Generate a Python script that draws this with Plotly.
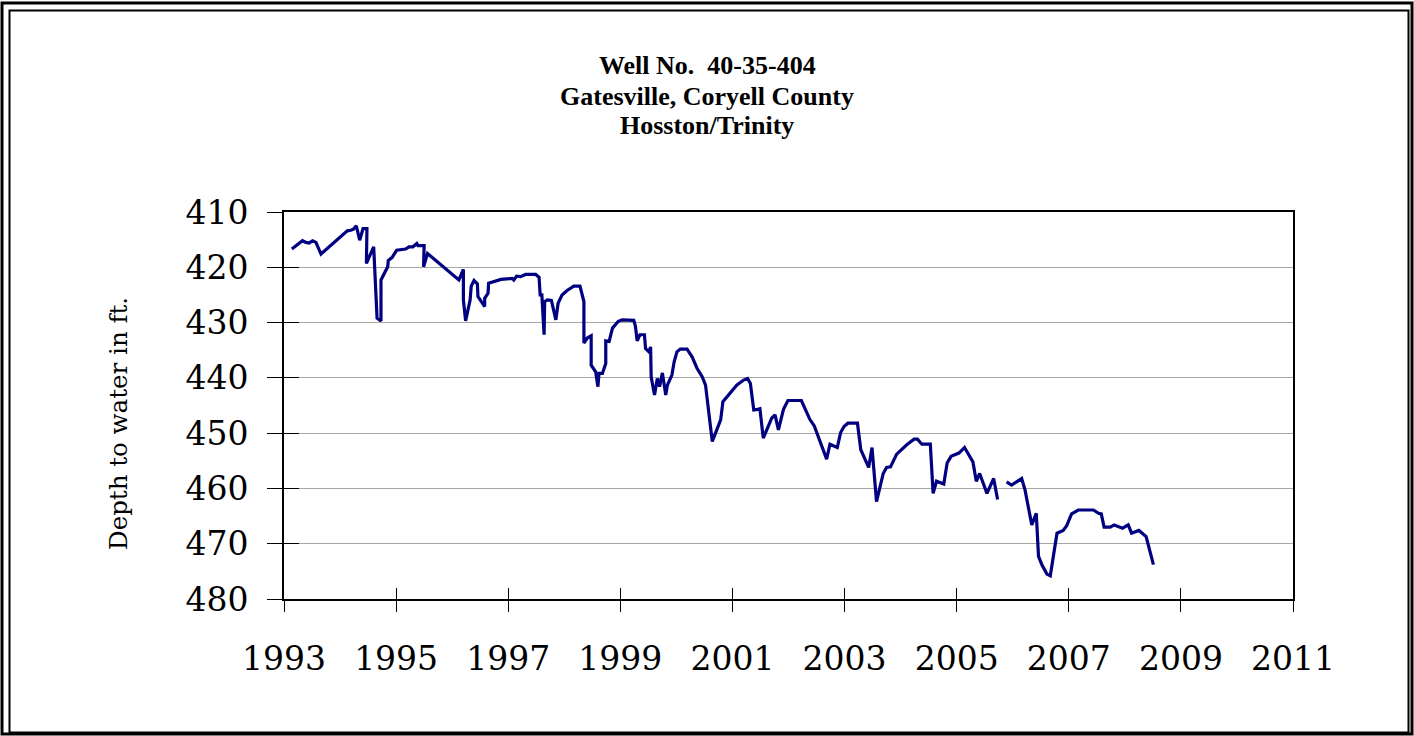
import plotly.graph_objects as go

# ---- data (decimal year, depth to water in ft) ----
years = [
    1993.14, 1993.33, 1993.39, 1993.45, 1993.51, 1993.57, 1993.66, 1994.13, 1994.19, 1994.24,
    1994.29, 1994.35, 1994.41, 1994.48, 1994.47, 1994.53, 1994.60, 1994.66, 1994.73, 1994.73,
    1994.85, 1994.86, 1994.93, 1995.01, 1995.17, 1995.23, 1995.30, 1995.37, 1995.39, 1995.50,
    1995.49, 1995.56, 1996.12, 1996.20, 1996.20, 1996.24, 1996.32, 1996.34, 1996.39, 1996.45,
    1996.46, 1996.50, 1996.58, 1996.58, 1996.64, 1996.65, 1996.75, 1996.87, 1997.07, 1997.10,
    1997.15, 1997.22, 1997.31, 1997.49, 1997.55, 1997.57, 1997.60, 1997.64, 1997.65, 1997.70,
    1997.77, 1997.85, 1997.89, 1997.96, 1998.05, 1998.17, 1998.28, 1998.35, 1998.35, 1998.41,
    1998.48, 1998.48, 1998.56, 1998.60, 1998.62, 1998.68, 1998.74, 1998.74, 1998.80, 1998.86,
    1998.96, 1999.03, 1999.24, 1999.27, 1999.30, 1999.35, 1999.43, 1999.45, 1999.51, 1999.54,
    1999.55, 1999.61, 1999.66, 1999.70, 1999.75, 1999.81, 1999.84, 1999.92, 1999.96, 2000.01,
    2000.07, 2000.19, 2000.28, 2000.37, 2000.46, 2000.52, 2000.64, 2000.79, 2000.83, 2001.08,
    2001.20, 2001.27, 2001.32, 2001.38, 2001.45, 2001.49, 2001.55, 2001.70, 2001.76, 2001.82,
    2001.91, 2001.99, 2002.23, 2002.33, 2002.38, 2002.46, 2002.56, 2002.68, 2002.74, 2002.87,
    2002.93, 2002.99, 2003.06, 2003.23, 2003.29, 2003.43, 2003.49, 2003.57, 2003.69, 2003.75,
    2003.82, 2003.93, 2004.11, 2004.24, 2004.30, 2004.38, 2004.53, 2004.58, 2004.64, 2004.77,
    2004.83, 2004.90, 2005.04, 2005.14, 2005.29, 2005.35, 2005.41, 2005.54, 2005.66, 2005.73,
    2005.81,
    2005.89, 2005.98, 2006.16, 2006.22, 2006.34, 2006.42, 2006.46, 2006.52, 2006.61, 2006.67,
    2006.79, 2006.90, 2006.96, 2007.05, 2007.17, 2007.44, 2007.53, 2007.58, 2007.63, 2007.74,
    2007.81, 2007.96, 2008.06, 2008.12, 2008.25, 2008.38, 2008.51,
]
depths = [
    416.7, 415.2, 415.5, 415.6, 415.2, 415.5, 417.6, 413.4, 413.3, 413.1,
    412.5, 415.1, 413.0, 413.0, 419.3, 418.0, 416.3, 429.2, 429.7, 422.3,
    419.9, 418.8, 418.2, 416.9, 416.7, 416.3, 416.3, 415.7, 416.1, 416.1,
    419.9, 417.5, 422.3, 420.4, 425.9, 429.7, 425.9, 423.4, 422.4, 423.0,
    425.3, 425.9, 427.1, 425.6, 424.7, 422.9, 422.6, 422.2, 422.0, 422.3,
    421.6, 421.7, 421.3, 421.3, 421.8, 425.0, 425.0, 432.2, 426.2, 425.9,
    426.0, 429.5, 426.5, 425.0, 424.2, 423.4, 423.4, 426.2, 433.7, 432.8,
    432.4, 437.7, 438.9, 441.6, 439.2, 439.2, 437.4, 433.3, 433.4, 431.0,
    429.8, 429.5, 429.6, 430.7, 433.3, 432.2, 432.2, 434.7, 435.3, 434.4,
    439.8, 443.1, 440.1, 441.6, 439.1, 443.1, 441.3, 439.5, 437.1, 435.3,
    434.8, 434.8, 436.2, 438.3, 439.8, 441.3, 451.5, 447.6, 444.3, 441.3,
    440.4, 440.1, 441.0, 445.8, 445.7, 445.6, 450.9, 447.3, 446.7, 449.4,
    445.7, 444.1, 444.1, 446.4, 447.5, 448.7, 451.5, 454.7, 452.0, 452.6,
    449.9, 448.8, 448.2, 448.2, 453.0, 456.2, 452.6, 462.4, 457.3, 456.2,
    456.1, 453.8, 452.1, 451.1, 451.1, 452.0, 452.0, 460.9, 458.7, 459.2,
    455.4, 454.2, 453.6, 452.6, 455.2, 458.7, 457.3, 460.9, 458.2, 462.0,
    None,
    458.8, 459.4, 458.2, 460.3, 466.6, 464.5, 472.3, 473.8, 475.5, 475.8,
    468.1, 467.6, 466.8, 464.6, 463.9, 463.9, 464.5, 464.6, 467.0, 467.0,
    466.6, 467.2, 466.6, 468.1, 467.6, 468.7, 473.8,
]

title_lines = ["Well No.  40-35-404", "Gatesville, Coryell County", "Hosston/Trinity"]
y_title = "Depth to water in ft."
x_ticks = [1993, 1995, 1997, 1999, 2001, 2003, 2005, 2007, 2009, 2011]
y_ticks = [410, 420, 430, 440, 450, 460, 470, 480]

# ---- layout geometry (pixels) ----
W, H = 1414, 736
L, R, T, B = 284, 1293, 212, 599


def px(xpix):
    return (xpix - L) / (R - L)


def py(ypix):
    return (B - ypix) / (B - T)


fig = go.Figure()
fig.add_trace(go.Scatter(
    x=years, y=depths, mode="lines", connectgaps=False,
    line=dict(color="#000080", width=3.2), showlegend=False, hoverinfo="x+y",
))
# invisible trace on overlaying axes for inside tick halves
fig.add_trace(go.Scatter(x=[x_ticks[0]], y=[y_ticks[0]], xaxis="x2", yaxis="y2",
                         mode="markers", marker=dict(opacity=0), showlegend=False,
                         hoverinfo="skip"))

serif = "DejaVu Serif"
fig.update_layout(
    width=W, height=H,
    margin=dict(l=L, r=W - R, t=T, b=H - B, pad=0),
    paper_bgcolor="white", plot_bgcolor="white",
    xaxis=dict(
        range=[1993, 2011], tickvals=x_ticks, ticktext=[str(v) for v in x_ticks],
        showgrid=False, zeroline=False,
        showline=True, linecolor="black", linewidth=1.5, mirror=True,
        ticks="outside", ticklen=11, tickwidth=1, tickcolor="black",
        ticklabelstandoff=19,
        tickfont=dict(family=serif, size=33, color="black"),
    ),
    yaxis=dict(
        range=[480, 410], tickvals=y_ticks, ticktext=[str(v) for v in y_ticks],
        showgrid=True, gridcolor="#a6a6a6", gridwidth=1, zeroline=False,
        showline=True, linecolor="black", linewidth=2, mirror=True,
        ticks="outside", ticklen=15, tickwidth=1, tickcolor="black",
        ticklabelstandoff=12,
        tickfont=dict(family=serif, size=33, color="black"),
    ),
    xaxis2=dict(range=[1993, 2011], tickvals=x_ticks, overlaying="x", side="bottom",
                showticklabels=False, showgrid=False, zeroline=False, showline=False,
                ticks="inside", ticklen=11, tickwidth=1, tickcolor="black"),
    yaxis2=dict(range=[480, 410], tickvals=y_ticks, overlaying="y", side="left",
                showticklabels=False, showgrid=False, zeroline=False, showline=False,
                ticks="inside", ticklen=15, tickwidth=1, tickcolor="black"),
)

# title lines
for text, ycen in zip(title_lines, [65, 96, 126]):
    fig.add_annotation(text="<b>" + text + "</b>", xref="paper", yref="paper",
                       x=px(707), y=py(ycen), xanchor="center", yanchor="middle",
                       showarrow=False,
                       font=dict(family="Liberation Serif", size=26, color="black"))

fig.add_annotation(text=y_title, xref="paper", yref="paper", x=px(118), y=py(424),
                   xanchor="center", yanchor="middle", textangle=-90, showarrow=False,
                   font=dict(family=serif, size=24.5, color="black"))

# double outer frame
fig.add_shape(type="rect", xref="paper", yref="paper",
              x0=px(2), x1=px(1412), y0=py(734), y1=py(3),
              line=dict(color="black", width=3), fillcolor="rgba(0,0,0,0)", layer="above")
fig.add_shape(type="rect", xref="paper", yref="paper",
              x0=px(9.5), x1=px(1408.5), y0=py(732.5), y1=py(10.5),
              line=dict(color="black", width=2), fillcolor="rgba(0,0,0,0)", layer="above")

fig.write_html("out.html",
               config={"displayModeBar": False},
               post_script="document.body.style.margin='0';document.body.style.overflow='hidden';")
